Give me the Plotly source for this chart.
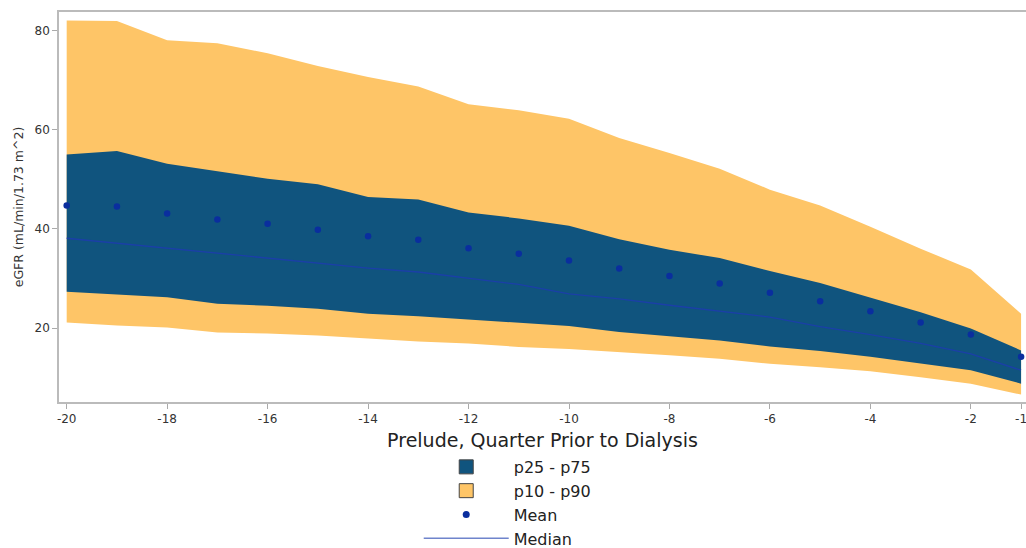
import plotly.graph_objects as go

# Quarters before dialysis start
quarters = [-20, -19, -18, -17, -16, -15, -14, -13, -12, -11,
            -10, -9, -8, -7, -6, -5, -4, -3, -2, -1]

# eGFR distribution by quarter (mL/min/1.73 m^2)
p10 = [21.1, 20.5, 20.1, 19.1, 18.9, 18.5, 17.9, 17.3, 16.9, 16.2,
       15.8, 15.2, 14.5, 13.8, 12.8, 12.1, 11.3, 10.1, 8.8, 6.6]
p25 = [27.3, 26.7, 26.2, 24.9, 24.5, 23.9, 22.9, 22.4, 21.7, 21.0,
       20.4, 19.2, 18.4, 17.5, 16.3, 15.4, 14.2, 12.8, 11.5, 8.8]
median = [38.1, 37.1, 36.2, 35.1, 34.2, 33.1, 32.1, 31.3, 30.0, 28.8,
          26.9, 25.9, 24.6, 23.4, 22.2, 20.3, 18.7, 16.9, 14.8, 11.5]
mean = [44.7, 44.5, 43.1, 41.9, 41.0, 39.8, 38.5, 37.8, 36.1, 35.0,
        33.6, 32.0, 30.5, 29.0, 27.1, 25.4, 23.4, 21.1, 18.7, 14.2]
p75 = [55.0, 55.7, 53.1, 51.6, 50.1, 49.0, 46.4, 45.9, 43.3, 42.1,
       40.6, 37.9, 35.8, 34.1, 31.5, 29.1, 26.1, 23.2, 19.9, 15.5]
p90 = [82.0, 81.9, 78.0, 77.4, 75.4, 72.8, 70.6, 68.7, 65.1, 63.9,
       62.2, 58.3, 55.3, 52.1, 47.9, 44.7, 40.4, 36.0, 31.8, 22.9]

x_ticks = [-20, -18, -16, -14, -12, -10, -8, -6, -4, -2, -1]
y_ticks = [20, 40, 60, 80]

ORANGE = "#FEC567"
NAVY = "#10547E"
DOT = "#0A2E9E"
LINE = "#1B3FA8"
FONT = "DejaVu Sans"

fig = go.Figure()

# p10 - p90 band
fig.add_trace(go.Scatter(x=quarters, y=p10, mode="lines", line=dict(width=0),
                         showlegend=False, hoverinfo="skip"))
fig.add_trace(go.Scatter(x=quarters, y=p90, mode="lines", line=dict(width=0),
                         fill="tonexty", fillcolor=ORANGE, showlegend=False))
# p25 - p75 band
fig.add_trace(go.Scatter(x=quarters, y=p25, mode="lines", line=dict(width=0),
                         showlegend=False, hoverinfo="skip"))
fig.add_trace(go.Scatter(x=quarters, y=p75, mode="lines", line=dict(width=0),
                         fill="tonexty", fillcolor=NAVY, showlegend=False))
# Median and mean
fig.add_trace(go.Scatter(x=quarters, y=median, mode="lines",
                         line=dict(color=LINE, width=1.3), showlegend=False))
fig.add_trace(go.Scatter(x=quarters, y=mean, mode="markers",
                         marker=dict(color=DOT, size=6.5), showlegend=False))

# Legend entries
fig.add_trace(go.Scatter(x=[None], y=[None], mode="markers", name="p25 - p75",
                         marker=dict(symbol="square", size=14, color=NAVY,
                                     line=dict(color="#444", width=1))))
fig.add_trace(go.Scatter(x=[None], y=[None], mode="markers", name="p10 - p90",
                         marker=dict(symbol="square", size=14, color=ORANGE,
                                     line=dict(color="#444", width=1))))
fig.add_trace(go.Scatter(x=[None], y=[None], mode="markers", name="Mean",
                         marker=dict(color=DOT, size=7)))
fig.add_trace(go.Scatter(x=[None], y=[None], mode="lines", name="Median",
                         line=dict(color="#6F84CC", width=1.5)))

fig.update_layout(
    width=1026, height=548,
    margin=dict(l=59, r=0, t=12, b=146, autoexpand=False),
    paper_bgcolor="white", plot_bgcolor="white",
    font=dict(family=FONT, color="#333"),
    showlegend=True,
    legend=dict(orientation="v", traceorder="normal",
                x=0.372, xanchor="left", y=-0.123, yanchor="top",
                font=dict(size=16, color="#222", family=FONT),
                itemwidth=85, tracegroupgap=0, bgcolor="rgba(0,0,0,0)"),
    xaxis=dict(range=[-20.153, -0.902], tickvals=x_ticks,
               ticktext=[str(v) for v in x_ticks],
               ticklabeloverflow="allow",
               showgrid=False, zeroline=False,
               showline=True, linecolor="#BBBBBB", linewidth=1.5, mirror=True,
               ticks="outside", ticklen=5, tickcolor="#AAAAAA",
               tickfont=dict(size=12, color="#333"),
               title=dict(text="Prelude, Quarter Prior to Dialysis",
                          font=dict(size=19, color="#222"), standoff=9)),
    yaxis=dict(range=[5.1, 83.7], tickvals=y_ticks,
               showgrid=False, zeroline=False,
               showline=True, linecolor="#BBBBBB", linewidth=1.5,
               ticks="outside", ticklen=5, tickcolor="#AAAAAA",
               tickfont=dict(size=12, color="#333"),
               title=dict(text="eGFR (mL/min/1.73 m^2)",
                          font=dict(size=12.5, color="#333"), standoff=8)),
)

fig.write_html("out.html")
